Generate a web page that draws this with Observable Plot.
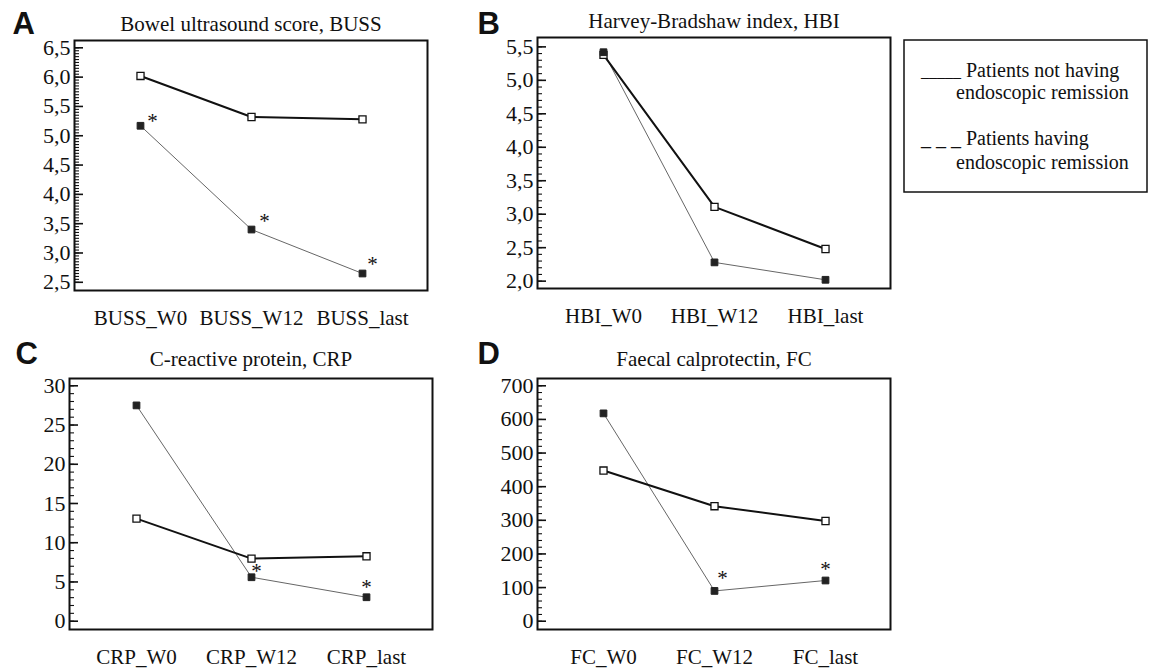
<!DOCTYPE html>
<html>
<head>
<meta charset="utf-8">
<script src="https://cdn.jsdelivr.net/npm/d3@7"></script>
<script src="https://cdn.jsdelivr.net/npm/@observablehq/plot@0.6"></script>
<style>
  html, body { margin: 0; padding: 0; background: white; font-family: "Liberation Serif", serif; }
  #root { position: relative; width: 1151px; height: 672px; overflow: hidden; background: white; font-family: "Liberation Serif", serif; }
  #root svg { font-family: "Liberation Serif", serif; }
  .panel { position: absolute; }
  #legend { position: absolute; left: 903px; top: 39px; }
</style>
</head>
<body>
<div id="root"></div>
<script>
// ---- data ----
const timepoints = ["W0", "W12", "last"];

const bussNot = [6.02, 5.32, 5.28];
const bussRem = [5.17, 3.40, 2.65];
const bussSig = [true, true, true];
const bussTicks = [2.5, 3.0, 3.5, 4.0, 4.5, 5.0, 5.5, 6.0, 6.5];

const hbiNot = [5.38, 3.11, 2.48];
const hbiRem = [5.42, 2.28, 2.02];
const hbiSig = [false, false, false];
const hbiTicks = [2.0, 2.5, 3.0, 3.5, 4.0, 4.5, 5.0, 5.5];

const crpNot = [13.07, 7.98, 8.27];
const crpRem = [27.5, 5.6, 3.05];
const crpSig = [false, true, true];
const crpTicks = [0, 5, 10, 15, 20, 25, 30];

const fcNot = [448, 342, 298];
const fcRem = [618, 90, 121];
const fcSig = [false, true, true];
const fcTicks = [0, 100, 200, 300, 400, 500, 600, 700];

const legendLabels = [["_____", "Patients not having", "endoscopic remission"], ["_ _ _", "Patients having", "endoscopic remission"]];

// ---- layout ----
const commaFmt = d => d.toFixed(1).replace(".", ",");
const intFmt = d => String(d);

const panels = [
  { key: "BUSS", letter: "A", title: "Bowel ultrasound score, BUSS", not: bussNot, rem: bussRem, sig: bussSig,
    ticks: bussTicks, minorStep: 0.05, fmt: commaFmt, domain: [2.36, 6.625], padding: 0.58,
    left: 0, top: 0, width: 440, height: 335, mL: 74, mR: 13, mT: 40, mB: 45,
    letterDx: -62, letterDy: -7, titleDy: -10,
    starDx: [12, 13, 10], starDy: [-5, -8, -9] },
  { key: "HBI", letter: "B", title: "Harvey-Bradshaw index, HBI", not: hbiNot, rem: hbiRem, sig: hbiSig,
    ticks: hbiTicks, minorStep: 0.1, fmt: commaFmt, domain: [1.89, 5.64], padding: 0.58,
    left: 460, top: 0, width: 440, height: 333, mL: 77, mR: 10, mT: 37, mB: 45,
    letterDx: -60, letterDy: -4, titleDy: -10,
    starDx: [0, 0, 0], starDy: [0, 0, 0] },
  { key: "CRP", letter: "C", title: "C-reactive protein, CRP", not: crpNot, rem: crpRem, sig: crpSig,
    ticks: crpTicks, minorStep: 1, fmt: intFmt, domain: [-1.06, 30.93], padding: 0.57,
    left: 0, top: 335, width: 440, height: 337, mL: 69, mR: 8, mT: 43, mB: 43,
    letterDx: -54, letterDy: -15, titleDy: -13,
    starDx: [0, 5, 0], starDy: [0, -6, -10] },
  { key: "FC", letter: "D", title: "Faecal calprotectin, FC", not: fcNot, rem: fcRem, sig: fcSig,
    ticks: fcTicks, minorStep: 20, fmt: intFmt, domain: [-24.7, 721.7], padding: 0.58,
    left: 460, top: 335, width: 440, height: 337, mL: 77, mR: 10, mT: 43, mB: 43,
    letterDx: -60, letterDy: -15, titleDy: -13,
    starDx: [0, 8, 0], starDy: [0, -13, -11] }
];

const SERIF = "Liberation Serif, serif";
const SANS = "Liberation Sans, Arial, sans-serif";

function makePanel(cfg) {
  const notData = timepoints.map((t, i) => ({ t, v: cfg.not[i] }));
  const remData = timepoints.map((t, i) => ({ t, v: cfg.rem[i], sig: cfg.sig[i], i }));
  const fw = cfg.width - cfg.mL - cfg.mR;
  const lo = cfg.ticks[0], hi = cfg.ticks[cfg.ticks.length - 1];
  const minor = d3.range(Math.round((hi - lo) / cfg.minorStep) + 1).map(k => lo + k * cfg.minorStep);
  const stars = remData.filter(d => d.sig).map(d =>
    Plot.text([d], { x: "t", y: "v", text: () => "*", dx: cfg.starDx[d.i], dy: cfg.starDy[d.i],
      fontSize: 21, fontFamily: SERIF, fill: "#111", textAnchor: "middle", lineAnchor: "middle" }));
  return Plot.plot({
    width: cfg.width, height: cfg.height,
    marginLeft: cfg.mL, marginRight: cfg.mR, marginTop: cfg.mT, marginBottom: cfg.mB,
    style: { fontSize: "21px", color: "#111", background: "white", overflow: "visible" },
    x: { type: "point", domain: timepoints, padding: cfg.padding, label: null },
    y: { domain: cfg.domain, label: null },
    marks: [
      Plot.ruleY(minor, { y: d => d, insetRight: fw - 5, stroke: "#111", strokeWidth: 1.1 }),
      Plot.ruleY(cfg.ticks, { y: d => d, insetRight: fw - 9, stroke: "#111", strokeWidth: 1.6 }),
      Plot.axisY(cfg.ticks, { anchor: "left", tickSize: 0, tickPadding: 4, tickFormat: cfg.fmt, fontSize: 22, fontFamily: SERIF, label: null }),
      Plot.axisX({ anchor: "bottom", tickSize: 0, tickPadding: 20, tickFormat: t => cfg.key + "_" + t, fontSize: 21, fontFamily: SERIF, label: null }),
      Plot.line(remData, { x: "t", y: "v", stroke: "#666", strokeWidth: 1 }),
      Plot.line(notData, { x: "t", y: "v", stroke: "#111", strokeWidth: 2 }),
      Plot.dot(notData, { x: "t", y: "v", symbol: "square", r: 4, fill: "white", stroke: "#111", strokeWidth: 1.3 }),
      Plot.dot(remData, { x: "t", y: "v", symbol: "square", r: 3.8, fill: "#222", stroke: "#222", strokeWidth: 1 }),
      ...stars,
      Plot.frame({ stroke: "#111", strokeWidth: 2 }),
      Plot.text([cfg.title], { text: d => d, frameAnchor: "top", textAnchor: "middle", lineAnchor: "bottom", dy: cfg.titleDy, fontSize: 21, fontFamily: SERIF, fill: "#111" }),
      Plot.text([cfg.letter], { text: d => d, frameAnchor: "top-left", textAnchor: "start", lineAnchor: "bottom", dx: cfg.letterDx, dy: cfg.letterDy, fontSize: 31, fontWeight: "bold", fontFamily: SANS, fill: "#111" })
    ]
  });
}

const root = document.getElementById("root");
for (const cfg of panels) {
  const div = document.createElement("div");
  div.className = "panel";
  div.style.left = cfg.left + "px";
  div.style.top = cfg.top + "px";
  div.appendChild(makePanel(cfg));
  root.appendChild(div);
}

// ---- legend box ----
const lg = d3.select(root).append("svg").attr("id", "legend")
  .attr("width", 246).attr("height", 156)
  .attr("font-family", SERIF).attr("font-size", 20);
lg.append("rect").attr("x", 1).attr("y", 1).attr("width", 243).attr("height", 152)
  .attr("fill", "white").attr("stroke", "#111").attr("stroke-width", 1.5);
const rows = [{ b1: 38, b2: 60 }, { b1: 106, b2: 130 }];
legendLabels.forEach((lab, i) => {
  lg.append("text").attr("x", 18).attr("y", rows[i].b1).attr("font-size", i === 0 ? 16 : 20).attr("fill", "#111").text(lab[0]);
  lg.append("text").attr("x", 63).attr("y", rows[i].b1).attr("fill", "#111").text(lab[1]);
  lg.append("text").attr("x", 53).attr("y", rows[i].b2).attr("fill", "#111").text(lab[2]);
});
</script>
</body>
</html>
